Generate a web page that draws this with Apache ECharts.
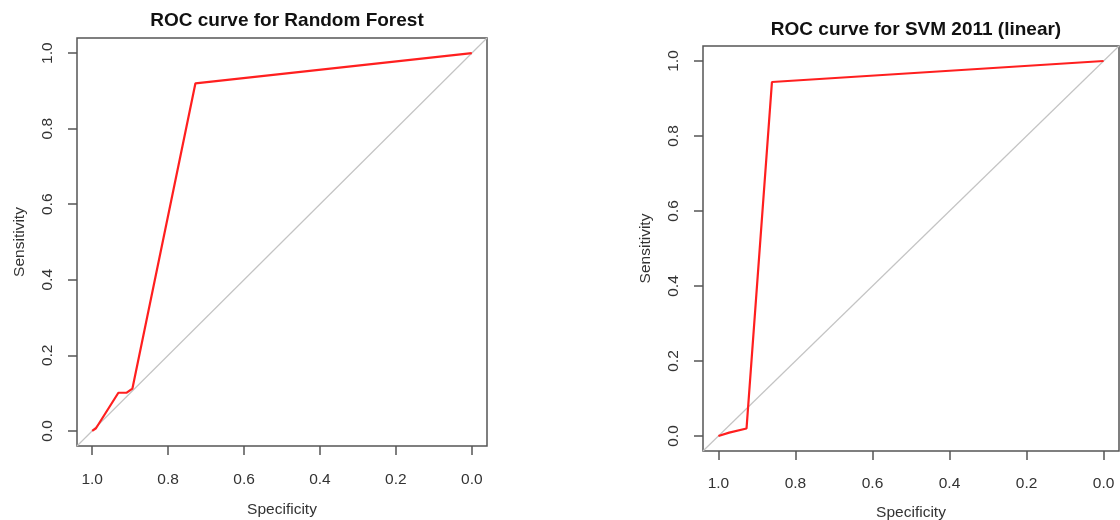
<!DOCTYPE html>
<html>
<head>
<meta charset="utf-8">
<title>ROC curves</title>
<script src="https://cdn.jsdelivr.net/npm/echarts@6/dist/echarts.min.js"></script>
<style>
  html, body { margin: 0; padding: 0; background: #fff; }
  #chart { width: 1120px; height: 520px; }
</style>
</head>
<body>
<div id="chart"></div>
<script>
// Random Forest ROC points (specificity, sensitivity)
const rfSpecificity = [1.0, 0.990, 0.931, 0.909, 0.894, 0.728, 0.0];
const rfSensitivity = [0.0, 0.007, 0.101, 0.101, 0.112, 0.920, 1.0];

// Linear SVM (2011) ROC points
const svmSpecificity = [1.0, 0.972, 0.927, 0.861, 0.0];
const svmSensitivity = [0.0, 0.009, 0.020, 0.944, 1.0];

// Chance diagonal: sensitivity = 1 - specificity, across the padded range
const chanceSpecificity = [1.04, -0.04];
const chanceSensitivity = [-0.04, 1.04];

// Axis tick values and padded range
const tickValues = [0, 0.2, 0.4, 0.6, 0.8, 1.0];
const axisMin = -0.04;
const axisMax = 1.04;

const titles = ['ROC curve for Random Forest', 'ROC curve for SVM 2011 (linear)'];
const xName = 'Specificity';
const yName = 'Sensitivity';

const FONT = '"Liberation Sans", Arial, sans-serif';
const TEXT = '#333';
const FRAME = '#555';

function pairs(xs, ys) { return xs.map((x, i) => [x, ys[i]]); }

function xAxisFor(gridIndex, labelMargin, nameGap) {
  return {
    type: 'value', gridIndex, inverse: true, min: axisMin, max: axisMax,
    position: 'bottom',
    name: xName, nameLocation: 'middle', nameGap,
    nameTextStyle: { fontFamily: FONT, fontSize: 15.5, color: TEXT },
    axisLine: { show: false, onZero: false },
    splitLine: { show: false },
    axisTick: { show: true, inside: false, length: 9, customValues: tickValues,
      lineStyle: { color: FRAME, width: 1.5 } },
    axisLabel: { customValues: tickValues, margin: labelMargin,
      fontFamily: FONT, fontSize: 15.5, color: TEXT,
      formatter: v => v.toFixed(1) }
  };
}

function yAxisFor(gridIndex) {
  return {
    type: 'value', gridIndex, min: axisMin, max: axisMax,
    position: 'left',
    name: yName, nameLocation: 'middle', nameGap: 49,
    nameTextStyle: { fontFamily: FONT, fontSize: 15.5, color: TEXT },
    axisLine: { show: false, onZero: false },
    splitLine: { show: false },
    axisTick: { show: true, inside: false, length: 9, customValues: tickValues,
      lineStyle: { color: FRAME, width: 1.5 } },
    axisLabel: { customValues: tickValues, margin: 21, rotate: 90,
      fontFamily: FONT, fontSize: 15.5, color: TEXT,
      formatter: v => v.toFixed(1) }
  };
}

function diagonal(i) {
  return {
    type: 'line', xAxisIndex: i, yAxisIndex: i,
    data: pairs(chanceSpecificity, chanceSensitivity),
    symbol: 'none', silent: true, z: 1,
    lineStyle: { color: '#c4c4c4', width: 1.2 }
  };
}

function curve(i, xs, ys) {
  return {
    type: 'line', xAxisIndex: i, yAxisIndex: i,
    data: pairs(xs, ys),
    symbol: 'none', z: 3,
    lineStyle: { color: '#ff1f1f', width: 2.2 }
  };
}

const chart = echarts.init(document.getElementById('chart'), null, { renderer: 'canvas' });
chart.setOption({
  animation: false,
  backgroundColor: '#fff',
  title: [
    { text: titles[0], left: 282, top: 6, textAlign: 'center',
      textStyle: { fontFamily: FONT, fontSize: 19, fontWeight: 'bold', color: '#111' } },
    { text: titles[1], left: 911, top: 15, textAlign: 'center',
      textStyle: { fontFamily: FONT, fontSize: 19, fontWeight: 'bold', color: '#111' } }
  ],
  grid: [
    { left: 77, top: 38, width: 410, height: 408, show: true, outerBoundsMode: 'none',
      borderColor: FRAME, borderWidth: 1.5, backgroundColor: 'transparent' },
    { left: 703, top: 46, width: 416, height: 405, show: true, outerBoundsMode: 'none',
      borderColor: FRAME, borderWidth: 1.5, backgroundColor: 'transparent' }
  ],
  xAxis: [xAxisFor(0, 26, 56), xAxisFor(1, 25, 54)],
  yAxis: [yAxisFor(0), yAxisFor(1)],
  series: [
    diagonal(0),
    curve(0, rfSpecificity, rfSensitivity),
    diagonal(1),
    curve(1, svmSpecificity, svmSensitivity)
  ]
});
</script>
</body>
</html>
